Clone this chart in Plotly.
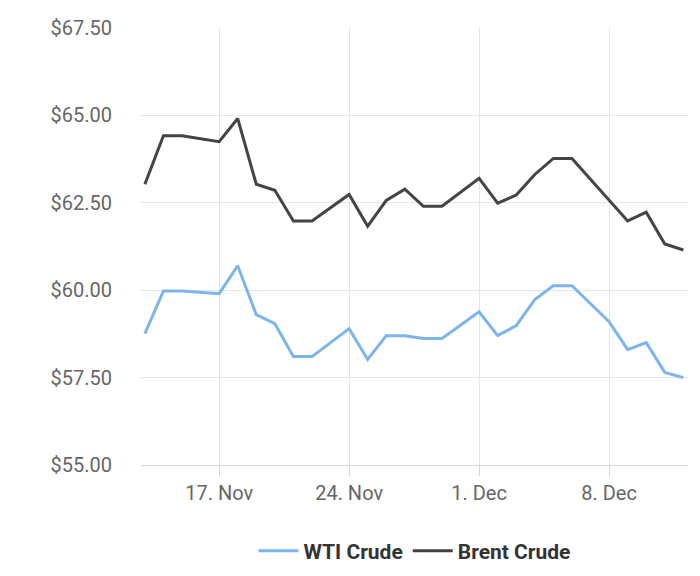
import plotly.graph_objects as go
import pandas as pd

dates = pd.date_range("2018-11-13", "2018-12-12", freq="D").strftime("%Y-%m-%d").tolist()
wti = [58.76, 59.98, 59.98, 59.93, 59.90, 60.70, 59.30, 59.04, 58.10, 58.10, 58.50, 58.90,
       58.02, 58.70, 58.70, 58.62, 58.62, 59.00, 59.38, 58.70, 58.99, 59.73, 60.13, 60.13,
       59.60, 59.10, 58.30, 58.50, 57.65, 57.50]
brent = [63.03, 64.42, 64.42, 64.34, 64.25, 64.91, 63.03, 62.86, 61.98, 61.98, 62.37, 62.74,
         61.83, 62.57, 62.89, 62.40, 62.40, 62.80, 63.20, 62.49, 62.72, 63.31, 63.77, 63.77,
         63.17, 62.55, 61.98, 62.23, 61.32, 61.15]
tickvals = ["2018-11-17", "2018-11-24", "2018-12-01", "2018-12-08"]
ticktext = ["17. Nov", "24. Nov", "1. Dec", "8. Dec"]

fig = go.Figure()
fig.add_trace(go.Scatter(x=dates, y=wti, name="WTI Crude", mode="lines",
                         line=dict(color="#7cb5ec", width=3)))
fig.add_trace(go.Scatter(x=dates, y=brent, name="Brent Crude", mode="lines",
                         line=dict(color="#434348", width=3)))
fig.update_layout(
    width=700, height=576, plot_bgcolor="white", paper_bgcolor="white",
    margin=dict(l=133, r=20, t=20, b=117),
    font=dict(family="Roboto", size=20, color="#666666"),
    legend=dict(orientation="h", x=0.5, xanchor="center", y=-0.15, yanchor="top",
                font=dict(size=21, color="#333333", family="Roboto", weight="bold"),
                itemwidth=40),
    xaxis=dict(range=["2018-11-12 19:00", "2018-12-12 06:00"], tickvals=tickvals, ticktext=ticktext,
               showgrid=True, gridcolor="#e6e6e6", showline=True, linecolor="#ccd6eb", linewidth=1,
               ticks="outside", tickcolor="#ccd6eb", ticklen=10, zeroline=False, automargin=False),
    yaxis=dict(range=[55, 67.5], dtick=2.5, tickformat="$.2f", showgrid=True,
               gridcolor="#e6e6e6", zeroline=False, ticks="", automargin=False,
               ticklabelstandoff=28),
)
fig.write_html("out.html")
